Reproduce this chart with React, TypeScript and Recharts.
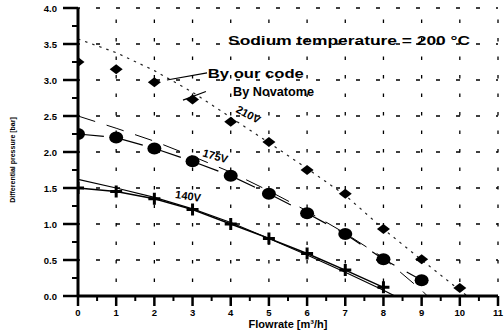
import React from 'react';
import { LineChart, Line, XAxis, YAxis, ReferenceLine, ReferenceDot } from 'recharts';

const FONT = '"Liberation Sans", Arial, sans-serif';

// x axis ticks (major + minor) and y axis ticks
const xTicks = [0, 0.5, 1, 1.5, 2, 2.5, 3, 3.5, 4, 4.5, 5, 5.5, 6, 6.5, 7, 7.5, 8, 8.5, 9, 9.5, 10, 10.5, 11];
const yTicks = [0, 0.25, 0.5, 0.75, 1, 1.25, 1.5, 1.75, 2, 2.25, 2.5, 2.75, 3, 3.25, 3.5, 3.75, 4];
const xGrid = [1, 2, 3, 4, 5, 6, 7, 8, 9, 10, 11];
const yGrid = [0.5, 1, 1.5, 2, 2.5, 3, 3.5, 4];

// 210 V
const flowNov210 = [0, 1, 2, 3, 4, 5, 6, 7, 8, 9, 10];
const dpNov210 = [3.25, 3.15, 2.97, 2.73, 2.42, 2.14, 1.75, 1.42, 0.93, 0.51, 0.11];
const flowCode210 = [0, 1, 2, 3, 4, 5, 6, 7, 8, 9, 10, 10.2];
const dpCode210 = [3.57, 3.38, 3.13, 2.83, 2.48, 2.13, 1.77, 1.4, 0.93, 0.5, 0.08, 0];

// 175 V
const flowNov175 = [0, 1, 2, 3, 4, 5, 6, 7, 8, 9];
const dpNov175 = [2.25, 2.2, 2.05, 1.87, 1.67, 1.42, 1.15, 0.86, 0.51, 0.22];
const flowCode175 = [0, 1, 2, 3, 4, 5, 6, 7, 8, 9, 9.15];
const dpCode175 = [2.5, 2.33, 2.15, 1.94, 1.72, 1.46, 1.18, 0.87, 0.53, 0.08, 0];

// 140 V
const flowNov140 = [0, 1, 2, 3, 4, 5, 6, 7, 8];
const dpNov140 = [1.5, 1.45, 1.35, 1.2, 1.0, 0.8, 0.59, 0.36, 0.12];
const flowCode140 = [0, 1, 2, 3, 4, 5, 6, 7, 8, 8.3];
const dpCode140 = [1.62, 1.5, 1.37, 1.21, 1.02, 0.8, 0.57, 0.33, 0.08, 0];

const zip = (xs: number[], ys: number[]) => xs.map((x, i) => ({ x, y: ys[i] }));

const nov210 = zip(flowNov210, dpNov210);
const code210 = zip(flowCode210, dpCode210);
const nov175 = zip(flowNov175, dpNov175);
const code175 = zip(flowCode175, dpCode175);
const nov140 = zip(flowNov140, dpNov140);
const code140 = zip(flowCode140, dpCode140);

const Diamond = (p: any) => {
  const { cx, cy } = p;
  if (cx == null || cy == null) return null;
  return <polygon points={`${cx - 6.5},${cy} ${cx},${cy - 5} ${cx + 6.5},${cy} ${cx},${cy + 5}`} fill="#000" />;
};
const Circle = (p: any) => {
  const { cx, cy } = p;
  if (cx == null || cy == null) return null;
  return <ellipse cx={cx} cy={cy} rx={7} ry={6} fill="#000" />;
};
const Plus = (p: any) => {
  const { cx, cy } = p;
  if (cx == null || cy == null) return null;
  return (
    <path d={`M${cx - 6},${cy} L${cx + 6},${cy} M${cx},${cy - 6} L${cx},${cy + 6}`} stroke="#000" strokeWidth={3} fill="none" />
  );
};

const XTick = (props: any) => {
  const { x, y, payload } = props;
  const v = payload.value as number;
  const major = Math.abs(v - Math.round(v)) < 1e-6;
  return (
    <g>
      <line x1={x} x2={x} y1={y} y2={y + (major ? 10 : 5)} stroke="#000" strokeWidth={major ? 2.5 : 2} />
      {major && (
        <text x={x} y={y + 20} textAnchor="middle" fontSize={9.5} fontWeight="bold" fontFamily={FONT} fill="#000">
          {v}
        </text>
      )}
    </g>
  );
};

const YTick = (props: any) => {
  const { x, y, payload } = props;
  const v = payload.value as number;
  const major = Math.abs(v * 2 - Math.round(v * 2)) < 1e-6;
  return (
    <g>
      <line x1={x - (major ? 15 : 6)} x2={x} y1={y} y2={y} stroke="#000" strokeWidth={major ? 2.5 : 2} />
      {major && (
        <text x={x - 21} y={y + 3.5} textAnchor="end" fontSize={9.5} fontWeight="bold" fontFamily={FONT} fill="#000">
          {v.toFixed(1)}
        </text>
      )}
    </g>
  );
};

const makeText = (txt: string, opts: { size: number; anchor?: string; rotate?: number; len?: number }) => (p: any) => {
  const { cx, cy } = p;
  if (cx == null || cy == null) return null;
  return (
    <text
      x={cx}
      y={cy}
      fontSize={opts.size}
      fontWeight="bold"
      fontFamily={FONT}
      fill="#000"
      textAnchor={opts.anchor || 'start'}
      dominantBaseline={opts.rotate != null ? 'middle' : undefined}
      transform={opts.rotate != null ? `rotate(${opts.rotate} ${cx} ${cy})` : undefined}
      textLength={opts.len}
      lengthAdjust={opts.len ? 'spacingAndGlyphs' : undefined}
    >
      {txt}
    </text>
  );
};

export default function App() {
  return (
    <div style={{ position: 'absolute', left: 0, top: 0, width: 504, height: 336, background: '#fff' }}>
      <LineChart width={504} height={336} margin={{ top: 8, right: 6, left: 0, bottom: 0 }}>
        <XAxis
          dataKey="x"
          type="number"
          domain={[0, 11]}
          ticks={xTicks}
          interval={0}
          tickSize={0}
          tickMargin={0}
          tickLine={false}
          tick={<XTick />}
          axisLine={{ stroke: '#000', strokeWidth: 3 }}
          height={40}
          allowDataOverflow
          label={{
            content: (p: any) => {
              const vb = p.viewBox || {};
              const cx = vb.x + vb.width / 2;
              return (
                <text x={cx} y={vb.y + 32} textAnchor="middle" fontSize={11} fontWeight="bold" fontFamily={FONT} fill="#000">
                  Flowrate [m³/h]
                </text>
              );
            },
          }}
        />
        <YAxis
          type="number"
          domain={[0, 4]}
          ticks={yTicks}
          interval={0}
          tickSize={0}
          tickMargin={0}
          tickLine={false}
          tick={<YTick />}
          axisLine={{ stroke: '#000', strokeWidth: 3 }}
          width={78}
          allowDataOverflow
          label={{
            content: (p: any) => {
              const vb = p.viewBox || {};
              const cy = vb.y + vb.height / 2;
              return (
                <text
                  x={13}
                  y={cy + 8}
                  transform={`rotate(-90 13 ${cy + 8})`}
                  textAnchor="middle"
                  dominantBaseline="middle"
                  fontSize={7}
                  fontWeight="bold"
                  fontFamily={FONT}
                  fill="#000"
                >
                  Differential pressure [bar]
                </text>
              );
            },
          }}
        />

        {yGrid.map((v) => (
          <ReferenceLine key={'h' + v} y={v} stroke="#000" strokeWidth={1.3} strokeDasharray="4 16" strokeDashoffset={2} />
        ))}
        {xGrid.map((v) => (
          <ReferenceLine key={'v' + v} x={v} stroke="#000" strokeWidth={1.3} strokeDasharray="3.5 15" strokeDashoffset={-14} />
        ))}

        <Line data={code210} dataKey="y" stroke="#222" strokeWidth={1.2} strokeDasharray="2.5 5" dot={false} activeDot={false} isAnimationActive={false} />
        <Line data={nov210} dataKey="y" stroke="none" dot={<Diamond />} activeDot={false} isAnimationActive={false} />

        <Line data={code175} dataKey="y" stroke="#000" strokeWidth={1} strokeDasharray="18 12" dot={false} activeDot={false} isAnimationActive={false} />
        <Line data={nov175} dataKey="y" stroke="#000" strokeWidth={1.2} strokeDasharray="26 14" dot={<Circle />} activeDot={false} isAnimationActive={false} />

        <Line data={code140} dataKey="y" stroke="#000" strokeWidth={1.1} dot={false} activeDot={false} isAnimationActive={false} />
        <Line data={nov140} dataKey="y" stroke="#000" strokeWidth={1.5} dot={<Plus />} activeDot={false} isAnimationActive={false} />

        <ReferenceLine segment={[{ x: 2.33, y: 3.0 }, { x: 3.38, y: 3.1 }]} stroke="#000" strokeWidth={1.2} ifOverflow="visible" />
        <ReferenceLine segment={[{ x: 2.75, y: 2.72 }, { x: 3.35, y: 2.84 }]} stroke="#000" strokeWidth={1.2} ifOverflow="visible" />

        <ReferenceDot x={3.93} y={3.49} ifOverflow="visible" shape={makeText('Sodium temperature =  200 °C', { size: 13, len: 242 })} />
        <ReferenceDot x={3.4} y={3.03} ifOverflow="visible" shape={makeText('By our code', { size: 13, len: 96 })} />
        <ReferenceDot x={4.06} y={2.78} ifOverflow="visible" shape={makeText('By Novatome', { size: 12.5, len: 81 })} />
        <ReferenceDot x={4.45} y={2.51} ifOverflow="visible" shape={makeText('210V', { size: 11, anchor: 'middle', rotate: 28 })} />
        <ReferenceDot x={3.59} y={1.93} ifOverflow="visible" shape={makeText('175V', { size: 11, anchor: 'middle', rotate: 16 })} />
        <ReferenceDot x={2.88} y={1.375} ifOverflow="visible" shape={makeText('140V', { size: 11, anchor: 'middle', rotate: 8 })} />
      </LineChart>
    </div>
  );
}
